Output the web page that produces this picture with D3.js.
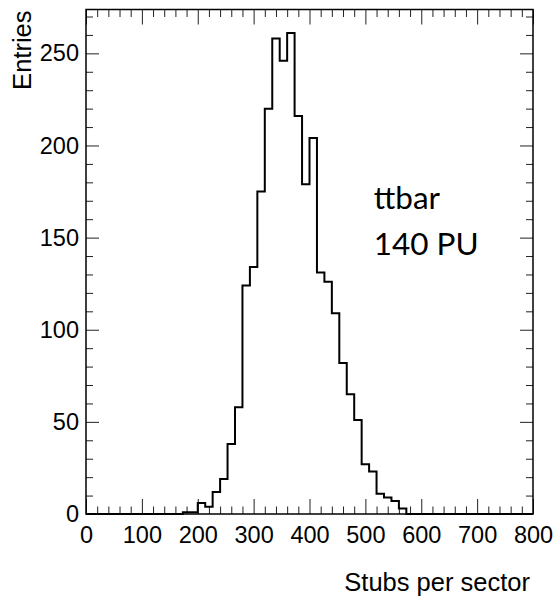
<!DOCTYPE html>
<html>
<head>
<meta charset="utf-8">
<script src="https://cdn.jsdelivr.net/npm/d3@7"></script>
<style>
  html, body { margin: 0; padding: 0; background: #fff; }
  svg { display: block; }
</style>
</head>
<body>
<svg id="chart" width="554" height="598"></svg>
<script>
// ---- data ----
const xMin = 0, xMax = 800, nBins = 60;
const counts = [
  0, 0, 0, 0, 0, 0, 0, 0, 0, 0,
  0, 0, 0, 1, 1, 6, 4, 12, 19, 38,
  58, 124, 134, 175, 220, 258, 246, 261, 216, 179,
  204, 131, 126, 109, 82, 65, 51, 27, 23, 11,
  9, 7, 3, 0, 0, 0, 0, 0, 0, 0,
  0, 0, 0, 0, 0, 0, 0, 0, 0, 0
];
const yMax = 273.8;
const xMajorTicks = [0, 100, 200, 300, 400, 500, 600, 700, 800];
const yMajorTicks = [0, 50, 100, 150, 200, 250];
const xTitle = "Stubs per sector";
const yTitle = "Entries";
const labelLines = ["ttbar", "140 PU"];

// ---- layout ----
const L = 86, R = 533, T = 9.5, B = 514;
const svg = d3.select("#chart");
const x = d3.scaleLinear().domain([xMin, xMax]).range([L, R]);
const y = d3.scaleLinear().domain([0, yMax]).range([B, T]);

const binW = (xMax - xMin) / nBins;
const xMinor = d3.range(xMin, xMax + 0.001, 20).filter(v => !xMajorTicks.includes(v));
const yMinor = d3.range(0, yMax, 10).filter(v => !yMajorTicks.includes(v));

const tickFont = "'Liberation Sans', Arial, Helvetica, sans-serif";

function styleAxis(g) {
  g.select(".domain").remove();
  g.selectAll(".tick line").attr("stroke", "#222").attr("stroke-width", 1);
}

// bottom axis
svg.append("g").attr("transform", `translate(0,${B})`)
  .call(d3.axisBottom(x).tickValues(xMajorTicks).tickSize(-15).tickPadding(12).tickFormat(d3.format("d")))
  .call(styleAxis)
  .call(g => g.selectAll("text").attr("font-family", tickFont).attr("font-size", 23.5).attr("fill", "#000").attr("dy", "0.71em"));
svg.append("g").attr("transform", `translate(0,${B})`)
  .call(d3.axisBottom(x).tickValues(xMinor).tickSize(-7.5).tickFormat(""))
  .call(styleAxis);
// top axis
svg.append("g").attr("transform", `translate(0,${T})`)
  .call(d3.axisTop(x).tickValues(xMajorTicks).tickSize(-15).tickFormat(""))
  .call(styleAxis);
svg.append("g").attr("transform", `translate(0,${T})`)
  .call(d3.axisTop(x).tickValues(xMinor).tickSize(-7.5).tickFormat(""))
  .call(styleAxis);
// left axis
svg.append("g").attr("transform", `translate(${L},0)`)
  .call(d3.axisLeft(y).tickValues(yMajorTicks).tickSize(-13).tickPadding(7).tickFormat(d3.format("d")))
  .call(styleAxis)
  .call(g => g.selectAll("text").attr("font-family", tickFont).attr("font-size", 23.5).attr("fill", "#000"));
svg.append("g").attr("transform", `translate(${L},0)`)
  .call(d3.axisLeft(y).tickValues(yMinor).tickSize(-7).tickFormat(""))
  .call(styleAxis);
// right axis
svg.append("g").attr("transform", `translate(${R},0)`)
  .call(d3.axisRight(y).tickValues(yMajorTicks).tickSize(-13).tickFormat(""))
  .call(styleAxis);
svg.append("g").attr("transform", `translate(${R},0)`)
  .call(d3.axisRight(y).tickValues(yMinor).tickSize(-7).tickFormat(""))
  .call(styleAxis);

// histogram step line
const pts = [];
counts.forEach((c, i) => {
  const x0 = xMin + i * binW, x1 = x0 + binW;
  pts.push([x(x0), y(c)]);
  pts.push([x(x1), y(c)]);
});
svg.append("path")
  .attr("d", d3.line()(pts))
  .attr("fill", "none")
  .attr("stroke", "#000")
  .attr("stroke-width", 2)
  .attr("stroke-linejoin", "miter");

// frame
svg.append("rect")
  .attr("x", L).attr("y", T).attr("width", R - L).attr("height", B - T)
  .attr("fill", "none").attr("stroke", "#000").attr("stroke-width", 1.5);

// axis titles
svg.append("text")
  .attr("x", R - 3).attr("y", 591)
  .attr("text-anchor", "end")
  .attr("font-family", tickFont).attr("font-size", 25.5)
  .text(xTitle);
svg.append("text")
  .attr("transform", `translate(31,${T + 1}) rotate(-90)`)
  .attr("text-anchor", "end")
  .attr("font-family", tickFont).attr("font-size", 25.5)
  .text(yTitle);

// annotation
svg.append("text")
  .attr("x", x(515)).attr("y", 209)
  .attr("font-family", "Lato, 'Open Sans', sans-serif").attr("font-size", 31.5)
  .text(labelLines[0]);
svg.append("text")
  .attr("x", x(515)).attr("y", 255)
  .attr("font-family", "Lato, 'Open Sans', sans-serif").attr("font-size", 31.5)
  .text(labelLines[1]);
</script>
</body>
</html>
